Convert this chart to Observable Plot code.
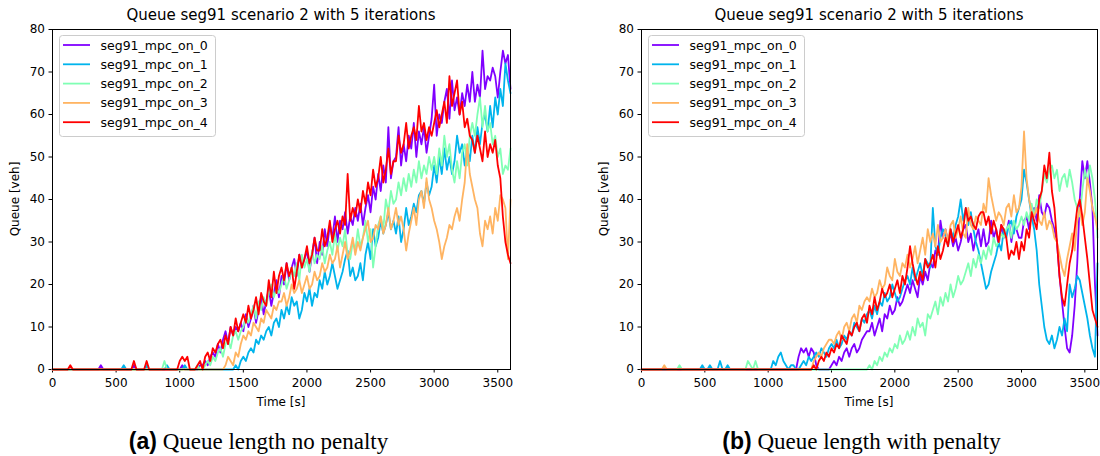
<!DOCTYPE html>
<html><head><meta charset="utf-8">
<script src="https://cdn.jsdelivr.net/npm/d3@7"></script>
<script src="https://cdn.jsdelivr.net/npm/@observablehq/plot@0.6"></script>
<style>
body{margin:0;background:#fff;}
#wrap{position:relative;width:1100px;height:456px;overflow:hidden;background:#fff;}
</style></head>
<body><div id="wrap"></div>
<script>
// ---------- data ----------
const STEP = 20; // seconds between samples (rows below: 15 samples = 300 s)
const seriesNames = ["seg91_mpc_on_0","seg91_mpc_on_1","seg91_mpc_on_2","seg91_mpc_on_3","seg91_mpc_on_4"];
const seriesColors = ["#8000ff","#00b4ec","#80ffb4","#ffb462","#ff0000"];
const xTicks = [0,500,1000,1500,2000,2500,3000,3500];
const yTicks = [0,10,20,30,40,50,60,70,80];
const chartTitle = "Queue seg91 scenario 2 with 5 iterations";
const xLabel = "Time [s]";
const yLabel = "Queue [veh]";
const captionTags = ["(a)","(b)"];
const captionTexts = ["Queue length no penalty","Queue length with penalty"];

// panel (a): no penalty
const a0 = [
 0,0,0,0,0,0,0,0,0,0,0,0,0,0,0,
 0,0,0,0,1,0,0,0,0,0,0,0,0,0,0,
 0,0,1,0,0,0,0,0,0,0,0,0,0,0,0,
 0,0,0,0,0,0,1,0,0,0,0,0,0,1,1,
 2,1,3,4,3,6,4,7,9,6,10,8,10,9,11,
 9,13,10,12,15,11,14,17,13,16,19,15,18,21,17,
 22,20,25,21,24,26,22,27,24,26,28,23,27,31,25,
 30,27,33,29,34,31,36,30,35,33,37,32,36,34,38,
 35,39,34,38,41,37,43,40,46,42,48,44,57,45,49,
 50,57,48,53,49,55,52,58,50,56,53,57,51,55,59,
 67,55,60,58,63,66,59,68,61,64,60,65,62,67,63,
 70,63,67,64,75,66,69,68,71,69,64,70,75,72,74,
 66];
const a1 = [
 0,0,0,0,0,0,0,0,0,0,0,0,0,0,0,
 0,0,0,0,0,0,0,0,0,0,0,0,0,1,0,
 0,0,0,0,0,0,0,1,0,0,0,0,0,0,0,
 1,0,0,0,0,0,0,1,0,0,0,0,0,0,0,
 0,0,0,0,0,0,0,0,0,0,0,0,1,0,2,
 3,2,4,5,4,7,6,8,7,9,10,8,11,12,10,
 14,12,15,13,17,15,16,12,14,18,16,19,15,18,17,
 21,19,23,20,22,25,22,19,21,23,26,28,22,24,21,
 22,25,21,27,30,26,33,29,31,35,32,34,37,33,35,
 32,36,30,33,38,34,36,39,37,41,42,39,44,41,43,
 48,44,50,46,52,47,50,46,49,55,51,53,48,52,49,
 55,51,57,53,58,60,56,62,57,64,60,66,62,72,68,
 65];
const a2 = [
 0,0,0,0,0,0,0,0,0,0,0,0,0,0,0,
 0,0,0,0,0,0,0,0,0,0,0,0,0,0,0,
 0,0,0,0,0,0,0,0,0,0,0,0,0,0,2,
 0,0,0,0,0,0,0,0,0,0,0,0,1,0,0,
 1,2,1,3,2,4,5,3,6,7,5,8,9,7,9,
 10,12,11,13,15,12,16,14,17,15,18,20,17,19,18,
 20,22,19,21,24,22,25,21,27,24,26,23,28,25,27,
 26,29,25,28,30,27,32,28,31,29,33,27,26,30,28,
 33,29,31,35,30,33,24,29,34,36,33,40,37,42,39,
 40,44,41,45,42,46,43,47,44,49,45,48,46,50,47,
 50,46,52,48,55,50,53,47,44,49,45,51,53,48,55,
 58,55,60,64,57,62,56,58,53,55,50,52,46,48,47,
 52];
const a3 = [
 0,0,0,0,0,0,0,0,0,0,0,0,0,0,0,
 0,0,0,0,0,0,0,0,0,0,0,0,0,0,0,
 0,0,0,0,0,0,0,0,0,0,0,0,0,0,0,
 0,0,0,0,0,0,0,0,0,0,0,0,0,0,0,
 0,0,0,0,0,0,0,0,1,3,2,1,4,3,6,
 8,7,9,8,11,10,9,12,11,14,13,12,15,14,16,
 16,18,15,17,20,18,19,21,18,20,22,19,20,23,21,
 22,25,23,24,27,25,26,29,24,27,30,26,28,31,27,
 30,28,31,33,35,30,31,34,33,36,32,34,38,33,35,
 38,34,36,33,28,32,35,38,34,40,42,38,45,40,38,
 35,33,30,26,29,31,34,33,36,38,35,40,44,53,46,
 43,40,38,32,29,35,33,36,32,38,35,41,40,38,26,
 40];
const a4 = [
 0,0,0,0,0,0,0,1,0,0,0,0,0,0,0,
 0,0,0,0,0,0,0,0,0,0,0,0,0,0,0,
 0,0,2,0,0,0,0,2,0,0,0,0,0,0,0,
 0,0,0,0,0,2,3,2,3,0,0,0,1,2,0,
 3,4,2,5,4,6,7,5,8,6,10,8,12,9,11,
 13,11,15,12,14,17,13,18,16,15,21,17,23,18,22,
 24,21,25,22,24,19,23,27,24,26,29,25,27,31,28,
 28,33,29,31,35,30,33,35,32,36,34,46,35,38,36,
 40,37,42,39,44,41,47,43,45,50,44,47,52,46,49,
 49,55,51,53,58,52,55,57,54,62,56,58,54,57,55,
 58,61,57,60,63,58,69,62,65,68,60,63,57,59,55,
 54,51,55,52,49,56,50,53,51,54,48,45,36,30,27,
 25];

// panel (b): with penalty
const b0 = [
 0,0,0,0,0,0,0,0,0,0,0,0,0,0,0,
 0,0,0,0,0,0,0,0,0,0,0,0,0,0,0,
 0,0,0,0,0,0,0,0,0,0,0,0,0,0,0,
 0,0,0,0,0,0,0,0,0,0,0,0,0,0,0,
 0,0,3,5,4,5,3,5,4,1,0,0,0,0,0,
 1,2,1,3,2,4,5,3,5,6,4,5,7,8,9,
 9,11,8,10,12,9,13,12,15,13,14,17,15,16,18,
 20,18,21,19,17,22,20,23,21,25,24,28,27,35,31,
 33,30,32,29,31,28,30,33,34,30,32,28,31,33,29,
 33,29,30,35,31,33,29,34,31,32,35,30,34,33,31,
 31,35,36,33,37,38,35,41,37,36,39,38,35,33,30,
 22,16,10,5,4,8,15,25,40,49,45,49,44,38,20,
 8];
const b1 = [
 0,0,0,0,0,0,0,0,0,0,0,0,0,0,0,
 0,0,0,0,0,0,0,0,0,1,0,0,1,0,0,
 0,2,0,0,1,0,0,0,0,0,0,0,0,0,0,
 0,0,0,0,0,0,0,2,1,3,4,2,1,0,1,
 1,0,0,1,2,1,3,2,3,4,3,5,4,3,5,
 6,5,7,5,6,8,7,9,8,11,10,9,12,11,13,
 14,12,15,13,16,15,18,16,17,20,18,16,17,19,21,
 22,20,24,21,23,25,22,26,25,24,38,29,27,31,33,
 32,29,33,31,34,36,40,35,38,34,37,33,30,28,25,
 22,19,20,23,25,27,30,28,33,31,34,35,32,36,38,
 40,47,44,40,36,33,28,20,15,10,7,6,8,5,7,
 10,8,12,9,20,17,19,22,21,18,15,12,8,5,3,
 25];
const b2 = [
 0,0,0,0,0,0,0,0,0,0,0,0,0,0,0,
 1,0,0,0,0,0,0,0,0,0,0,0,0,0,0,
 0,0,0,0,0,0,0,0,0,0,0,0,2,1,0,
 2,0,0,0,0,0,0,0,0,0,0,0,0,0,0,
 0,0,0,0,0,0,0,0,0,0,0,0,0,0,0,
 0,0,0,0,0,0,0,0,0,0,0,0,0,0,0,
 1,0,2,1,3,2,4,3,5,4,6,5,8,6,7,
 9,7,10,8,12,10,11,8,13,12,14,16,13,17,15,
 18,16,20,17,19,22,20,21,23,25,22,26,24,27,25,
 28,26,29,27,31,29,30,32,31,33,34,31,35,33,34,
 36,34,37,35,39,36,40,38,42,46,44,47,48,45,47,
 42,45,46,43,47,44,40,38,36,42,47,44,48,45,40,
 31];
const b3 = [
 0,0,0,0,0,0,0,0,0,1,0,0,0,0,0,
 0,0,0,0,0,0,0,0,0,0,0,0,0,0,0,
 0,0,0,0,0,0,0,0,0,0,0,0,0,0,0,
 0,0,0,0,0,0,0,0,0,0,0,0,0,0,0,
 0,0,0,0,0,0,0,0,2,3,4,3,5,6,7,
 7,6,8,9,7,10,11,9,12,13,11,15,14,16,17,
 16,19,17,18,21,19,20,24,22,21,26,23,22,25,24,
 27,24,26,29,25,28,31,27,33,30,32,29,34,30,31,
 33,30,34,35,31,33,36,32,31,38,34,33,36,35,34,
 39,37,45,41,38,35,37,36,34,38,39,36,41,37,38,
 43,56,45,40,37,36,38,35,34,37,33,35,34,31,30,
 27,24,22,26,29,32,28,35,38,34,37,45,42,38,36,
 33];
const b4 = [
 0,0,0,0,0,0,0,0,0,0,0,0,0,0,0,
 0,0,0,0,0,0,0,0,0,0,0,0,0,0,0,
 0,0,0,0,0,0,0,0,0,0,0,0,0,0,0,
 0,0,0,0,0,0,0,0,0,0,0,0,0,0,0,
 0,0,0,0,0,0,0,0,1,0,2,3,2,4,3,
 5,4,6,5,8,7,6,9,8,10,11,9,12,13,11,
 15,13,17,14,16,19,17,18,20,17,19,21,18,22,20,
 24,29,25,22,20,23,21,26,24,25,27,24,29,26,28,
 31,29,33,30,32,34,31,33,38,35,36,34,33,36,37,
 37,34,36,32,35,33,30,34,33,31,26,28,27,30,26,
 30,28,33,31,37,35,33,40,42,48,45,51,42,38,30,
 22,17,15,20,25,28,33,38,40,36,31,26,20,14,12,
 10];

// ---------- build ----------
function toRows(list){
  return list.flatMap((vals,k)=>vals.map((q,i)=>({t:i*STEP,q,s:seriesNames[k]})));
}
const panels = [
  {rows: toRows([a0,a1,a2,a3,a4]), left: 0, ml: 52, mr: 40},
  {rows: toRows([b0,b1,b2,b3,b4]), left: 550, ml: 91, mr: 3}
];
const wrap = document.getElementById("wrap");
const fmt = d3.format("d");

panels.forEach(p=>{
  const chart = Plot.plot({
    width: 550, height: 400,
    marginLeft: p.ml, marginRight: p.mr, marginTop: 29, marginBottom: 31,
    style: {fontFamily: "DejaVu Sans", fontSize: "12px", color: "#000", background: "transparent", overflow: "visible"},
    x: {domain: [0,3600], ticks: xTicks, tickFormat: fmt, tickSize: 3.5, tickPadding: 5, label: null},
    y: {domain: [0,80], ticks: yTicks, tickFormat: fmt, tickSize: 3.5, tickPadding: 4, label: null},
    color: {domain: seriesNames, range: seriesColors},
    marks: [
      Plot.line(p.rows, {x: "t", y: "q", z: "s", stroke: "s", strokeWidth: 1.8, strokeLinejoin: "round"}),
      Plot.frame({stroke: "#000", strokeWidth: 1})
    ]
  });
  chart.style.position = "absolute";
  chart.style.left = p.left + "px";
  chart.style.top = "0px";
  wrap.appendChild(chart);
});

// ---------- overlay texts & legends ----------
const ov = d3.select(wrap).append("svg")
  .attr("width",1100).attr("height",456)
  .style("position","absolute").style("left","0px").style("top","0px")
  .style("pointer-events","none");

const plotAreas = [{x0:52, x1:510}, {x0:641, x1:1097}];
const capCenters = [258.5, 861.5];
plotAreas.forEach((a,idx)=>{
  const cx = (a.x0+a.x1)/2;
  ov.append("text").attr("x",cx).attr("y",20).attr("text-anchor","middle")
    .attr("font-family","DejaVu Sans").attr("font-size",15).attr("fill","#000").text(chartTitle);
  ov.append("text").attr("x",cx).attr("y",406).attr("text-anchor","middle")
    .attr("font-family","DejaVu Sans").attr("font-size",12).attr("fill","#000").text(xLabel);
  ov.append("text").attr("transform",`translate(${a.x0-33},199) rotate(-90)`).attr("text-anchor","middle")
    .attr("font-family","DejaVu Sans").attr("font-size",12).attr("fill","#000").text(yLabel);
  // legend
  const lx = a.x0 + 7, ly = 35;
  const g = ov.append("g").attr("transform",`translate(${lx},${ly})`);
  g.append("rect").attr("x",0.5).attr("y",0.5).attr("width",156).attr("height",101).attr("rx",3)
    .attr("fill","#fff").attr("fill-opacity",0.8).attr("stroke","#cccccc").attr("stroke-width",1);
  seriesNames.forEach((n,i)=>{
    const cy = 10 + i*19.3;
    g.append("line").attr("x1",4).attr("x2",31).attr("y1",cy).attr("y2",cy)
      .attr("stroke",seriesColors[i]).attr("stroke-width",1.8);
    g.append("text").attr("x",41.5).attr("y",cy+4.5).attr("font-family","DejaVu Sans")
      .attr("font-size",12.5).attr("fill","#000").text(n);
  });
  // caption
  const t = ov.append("text").attr("x",capCenters[idx]).attr("y",449).attr("text-anchor","middle").attr("fill","#000");
  t.append("tspan").attr("font-family","Liberation Sans").attr("font-weight","bold").attr("font-size",23).text(captionTags[idx]);
  t.append("tspan").attr("font-family","Liberation Serif").attr("font-size",23).text(" " + captionTexts[idx]);
});
</script>
</body></html>
